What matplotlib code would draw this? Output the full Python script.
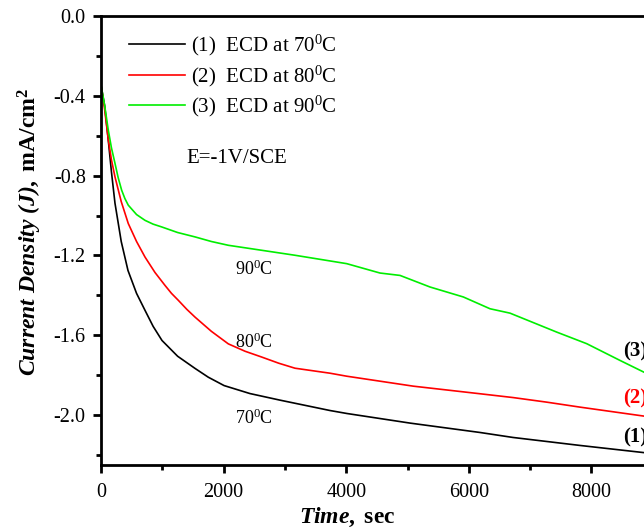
import matplotlib
matplotlib.use('Agg')
import matplotlib.pyplot as plt
from matplotlib.ticker import MultipleLocator

plt.rcParams['font.family'] = ['Liberation Serif', 'DejaVu Serif']
plt.rcParams['mathtext.fontset'] = 'custom'
plt.rcParams['mathtext.rm'] = 'Liberation Serif'
plt.rcParams['mathtext.it'] = 'Liberation Serif:italic'
plt.rcParams['mathtext.bf'] = 'Liberation Serif:bold'
plt.rcParams['mathtext.bfit'] = 'Liberation Serif:bold:italic'

# time (sec) and current density (mA/cm2)
t70 = [0, 60, 114, 170, 228, 330, 440, 580, 718, 850, 995, 1250, 1534,
       1750, 2008, 2430, 2920, 3736, 4013, 5041, 6182, 6721, 7814, 8858,
       9300]
j70 = [-0.346, -0.45, -0.607, -0.78, -0.938, -1.13, -1.275, -1.39, -1.475,
       -1.555, -1.626, -1.705, -1.766, -1.81, -1.852, -1.892, -1.925,
       -1.977, -1.992, -2.040, -2.087, -2.112, -2.152, -2.188, -2.20]

t80 = [0, 60, 119, 170, 228, 330, 445, 580, 718, 880, 1044, 1150, 1262,
       1400, 1534, 1800, 2077, 2350, 2621, 2900, 3165, 3736, 4008, 5095,
       6183, 6721, 7270, 7814, 8858, 9300]
j80 = [-0.346, -0.47, -0.62, -0.72, -0.806, -0.93, -1.04, -1.13, -1.208,
       -1.285, -1.35, -1.39, -1.425, -1.47, -1.509, -1.58, -1.643, -1.68,
       -1.709, -1.74, -1.765, -1.79, -1.805, -1.855, -1.893, -1.912,
       -1.935, -1.96, -2.005, -2.02]

t90 = [0, 60, 119, 170, 228, 280, 337, 390, 445, 580, 718, 850, 990, 1250,
       1534, 1800, 2077, 2621, 3165, 4008, 4551, 4878, 5367, 5911, 6346,
       6672, 7434, 7923, 8467, 8858, 9300]
j90 = [-0.346, -0.45, -0.572, -0.66, -0.738, -0.81, -0.873, -0.915, -0.948,
       -0.995, -1.024, -1.043, -1.057, -1.085, -1.107, -1.13, -1.149,
       -1.174, -1.199, -1.241, -1.288, -1.30, -1.358, -1.408, -1.467,
       -1.489, -1.584, -1.642, -1.726, -1.785, -1.85]

legend_labels = [r'(1)  ECD at 70$^{\rm 0}$C',
                 r'(2)  ECD at 80$^{\rm 0}$C',
                 r'(3)  ECD at 90$^{\rm 0}$C']

fig = plt.figure(figsize=(6.44, 5.31), dpi=100)
ax = fig.add_axes([101 / 644, 66 / 531, 613 / 644, 449 / 531])

ax.plot(t70, j70, color='black', lw=1.2, label=legend_labels[0])
ax.plot(t80, j80, color='#ff0000', lw=1.2, label=legend_labels[1])
ax.plot(t90, j90, color='#00ee00', lw=1.2, label=legend_labels[2])

ax.set_xlim(0, 10000)
ax.set_ylim(-2.25, 0.0)
ax.xaxis.set_major_locator(MultipleLocator(2000))
ax.xaxis.set_minor_locator(MultipleLocator(1000))
ax.yaxis.set_major_locator(MultipleLocator(0.4))
ax.yaxis.set_minor_locator(MultipleLocator(0.2))
ax.yaxis.set_major_formatter(plt.FuncFormatter(lambda v, p: '%.1f' % v))

for s in ax.spines.values():
    s.set_linewidth(2.0)
ax.tick_params(which='major', direction='out', length=6, width=2,
               labelsize=14.5, pad=5)
ax.tick_params(axis='x', which='major', pad=7)
ax.tick_params(which='minor', direction='out', length=3.5, width=2)

ax.legend(loc='upper left', bbox_to_anchor=(0.025, 0.99), frameon=False,
          fontsize=15, handlelength=2.7, handletextpad=0.3,
          labelspacing=0.25, borderaxespad=0.2)

ax.text(1390, -0.715, 'E=-1V/SCE', fontsize=15, va='center', ha='left')
ax.text(2500, -1.27, r'90$^{\rm 0}$C', fontsize=13, ha='center', va='center')
ax.text(2500, -1.635, r'80$^{\rm 0}$C', fontsize=13, ha='center', va='center')
ax.text(2500, -2.015, r'70$^{\rm 0}$C', fontsize=13, ha='center', va='center')

ax.text(8520, -1.68, '(3)', fontsize=15, fontweight='bold', va='center')
ax.text(8520, -1.915, '(2)', fontsize=15, fontweight='bold', color='#ff0000',
        va='center')
ax.text(8520, -2.11, '(1)', fontsize=15, fontweight='bold', va='center')

ax.set_ylabel(r'$\mathbfit{Current\ Density\ (J)}\mathbf{,\ mA/cm^2}$',
              fontsize=17)
ax.yaxis.set_label_coords(-0.093, 0.519)
fig.text(347 / 644, 1 - 517 / 531, r'$\mathbfit{Time}\mathbf{,\ sec}$',
         fontsize=17, ha='center', va='center')

fig.savefig('out.png', dpi=100)
